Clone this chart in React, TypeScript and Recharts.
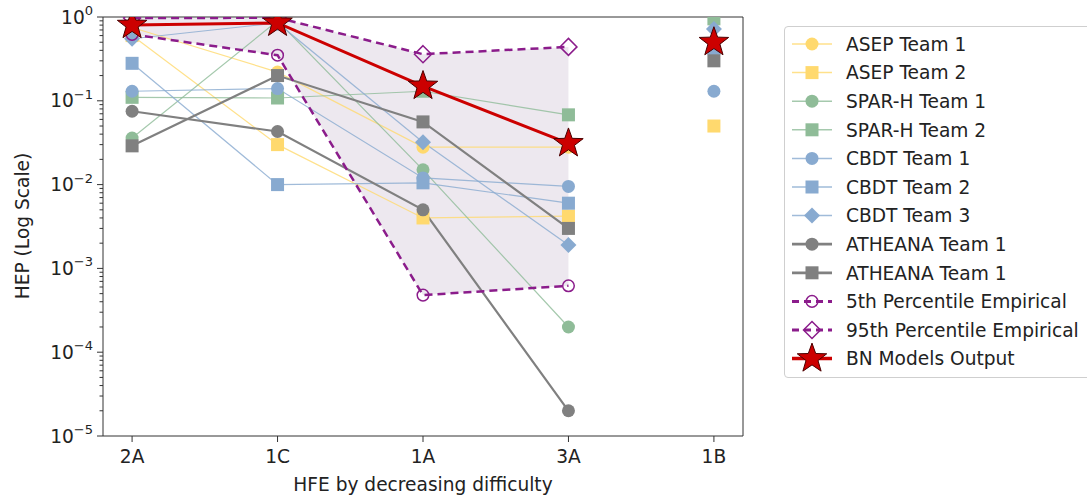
import React from 'react';
import { ComposedChart, Line, Area, XAxis, YAxis, ReferenceArea } from 'recharts';

// ---------- data ----------
const categories = ['2A', '1C', '1A', '3A', '1B'];
const isolatedCategory = '1B';

const asepTeam1 = [0.75, 0.22, 0.028, 0.028, null];
const asepTeam2 = [0.6, 0.03, 0.004, 0.0042, 0.05];
const sparhTeam1 = [0.036, 0.9, 0.015, 0.0002, null];
const sparhTeam2 = [0.11, 0.108, 0.13, 0.068, 0.95];
const cbdtTeam1 = [0.13, 0.14, 0.012, 0.0095, 0.13];
const cbdtTeam2 = [0.28, 0.01, 0.0105, 0.006, 0.42];
const cbdtTeam3 = [0.55, 0.85, 0.032, 0.0019, 0.72];
const atheanaTeam1 = [0.075, 0.043, 0.005, 0.00002, null];
const atheanaTeam2 = [0.029, 0.2, 0.056, 0.003, 0.3];
const percentile5 = [0.62, 0.35, 0.00048, 0.00062, null];
const percentile95 = [0.97, 0.98, 0.36, 0.44, null];
const bnOutput = [0.8, 0.85, 0.15, 0.031, 0.5];

const yMajorTicks = [1e-5, 1e-4, 1e-3, 1e-2, 1e-1, 1];
const yMinorMultipliers = [2, 3, 4, 5, 6, 7, 8, 9];

const seriesNames = [
  'ASEP Team 1', 'ASEP Team 2', 'SPAR-H Team 1', 'SPAR-H Team 2',
  'CBDT Team 1', 'CBDT Team 2', 'CBDT Team 3', 'ATHEANA Team 1',
  'ATHEANA Team 1', '5th Percentile Empirical', '95th Percentile Empirical', 'BN Models Output',
];

const xLabel = 'HFE by decreasing difficulty';
const yLabel = 'HEP (Log Scale)';

// ---------- styles ----------
const FONT = 'DejaVu Sans';
const FS = 18.6;
const ASEP = '#ffd96e';
const SPARH = '#8fbc98';
const CBDT = '#88aad0';
const ATH = '#808080';
const PCT = '#8b1c8b';
const BN = '#cc0000';

type MarkerKind = 'circle' | 'square' | 'diamond' | 'ocircle' | 'odiamond' | 'star';

const seriesDefs = [
  { key: 'asep1', values: asepTeam1, color: ASEP, width: 1.2, op: 0.8, marker: 'circle' as MarkerKind, dash: undefined },
  { key: 'asep2', values: asepTeam2, color: ASEP, width: 1.2, op: 0.8, marker: 'square' as MarkerKind, dash: undefined },
  { key: 'sparh1', values: sparhTeam1, color: SPARH, width: 1.2, op: 0.8, marker: 'circle' as MarkerKind, dash: undefined },
  { key: 'sparh2', values: sparhTeam2, color: SPARH, width: 1.2, op: 0.8, marker: 'square' as MarkerKind, dash: undefined },
  { key: 'cbdt1', values: cbdtTeam1, color: CBDT, width: 1.2, op: 0.8, marker: 'circle' as MarkerKind, dash: undefined },
  { key: 'cbdt2', values: cbdtTeam2, color: CBDT, width: 1.2, op: 0.8, marker: 'square' as MarkerKind, dash: undefined },
  { key: 'cbdt3', values: cbdtTeam3, color: CBDT, width: 1.2, op: 0.8, marker: 'diamond' as MarkerKind, dash: undefined },
  { key: 'ath1', values: atheanaTeam1, color: ATH, width: 2.2, op: 1, marker: 'circle' as MarkerKind, dash: undefined },
  { key: 'ath2', values: atheanaTeam2, color: ATH, width: 2.2, op: 1, marker: 'square' as MarkerKind, dash: undefined },
  { key: 'p5', values: percentile5, color: PCT, width: 2.5, op: 1, marker: 'ocircle' as MarkerKind, dash: '8 5' },
  { key: 'p95', values: percentile95, color: PCT, width: 2.5, op: 1, marker: 'odiamond' as MarkerKind, dash: '8 5' },
  { key: 'bn', values: bnOutput, color: BN, width: 3, op: 1, marker: 'star' as MarkerKind, dash: undefined },
];

// ---------- table ----------
const rows = categories.map((c, i) => {
  const iso = c === isolatedCategory;
  const row: any = { x: i, cat: c };
  seriesDefs.forEach((s) => {
    row[s.key] = iso ? null : s.values[i];
    row[s.key + '_iso'] = iso ? s.values[i] : null;
  });
  const lo = percentile5[i];
  const hi = percentile95[i];
  row.band = !iso && lo != null && hi != null ? [lo, hi] : null;
  return row;
});

const yTicks: number[] = [];
yMajorTicks.forEach((t, i) => {
  yTicks.push(t);
  if (i < yMajorTicks.length - 1) yMinorMultipliers.forEach((m) => yTicks.push(m * t));
});

// ---------- markers ----------
function starPoints(x: number, y: number, R: number, r: number) {
  const pts: string[] = [];
  for (let k = 0; k < 10; k++) {
    const ang = -Math.PI / 2 + (k * Math.PI) / 5;
    const rad = k % 2 === 0 ? R : r;
    pts.push(`${x + rad * Math.cos(ang)},${y + rad * Math.sin(ang)}`);
  }
  return pts.join(' ');
}

function Marker({ kind, x, y, color }: { kind: MarkerKind; x: number; y: number; color: string }) {
  switch (kind) {
    case 'circle':
      return <circle cx={x} cy={y} r={6.5} fill={color} stroke="none" />;
    case 'square':
      return <rect x={x - 6.5} y={y - 6.5} width={13} height={13} fill={color} stroke="none" />;
    case 'diamond':
      return <polygon points={`${x},${y - 8} ${x + 8},${y} ${x},${y + 8} ${x - 8},${y}`} fill={color} stroke="none" />;
    case 'ocircle':
      return <circle cx={x} cy={y} r={5.8} fill="none" stroke={color} strokeWidth={1.5} />;
    case 'odiamond':
      return <polygon points={`${x},${y - 8.5} ${x + 8.5},${y} ${x},${y + 8.5} ${x - 8.5},${y}`} fill="none" stroke={color} strokeWidth={1.5} />;
    case 'star':
      return <polygon points={starPoints(x, y, 15.5, 6.3)} fill={color} stroke="#4a0000" strokeWidth={1} />;
  }
  return null;
}

function makeDot(kind: MarkerKind, color: string) {
  return (p: any) => {
    const { cx, cy, index } = p;
    if (typeof cx !== 'number' || typeof cy !== 'number' || isNaN(cy)) return <g key={`e-${index}`} />;
    return (
      <g key={`d-${index}`}>
        <Marker kind={kind} x={cx} y={cy} color={color} />
      </g>
    );
  };
}

// ---------- ticks ----------
const YTick = (p: any) => {
  const { x, y, payload } = p;
  const v = payload.value as number;
  const lg = Math.log10(v);
  const e = Math.round(lg);
  const major = Math.abs(lg - e) < 1e-6;
  const len = major ? 6 : 3.5;
  const exp = e === 0 ? '0' : `\u2212${Math.abs(e)}`;
  return (
    <g>
      <line x1={x - len} x2={x} y1={y} y2={y} stroke="#333" strokeWidth={1} />
      {major && (
        <text x={x - len - 4} y={y + 6.5} textAnchor="end" fontFamily={FONT} fontSize={FS} fill="#222">
          10
          <tspan dy={-8.5} fontSize={FS * 0.7}>{exp}</tspan>
        </text>
      )}
    </g>
  );
};

const XTick = (p: any) => {
  const { x, y, payload } = p;
  return (
    <g>
      <line x1={x} x2={x} y1={y} y2={y + 6} stroke="#333" strokeWidth={1} />
      <text x={x} y={y + 27} textAnchor="middle" fontFamily={FONT} fontSize={FS} fill="#222">
        {categories[payload.value]}
      </text>
    </g>
  );
};

// ---------- legend ----------
const LegendBox = () => {
  const top = 26;
  const left = 784;
  const rowH = 28.6;
  return (
    <div
      style={{
        position: 'absolute', left, top, width: 340, height: 352,
        border: '1px solid #cfcfcf', borderRadius: 4, background: 'rgba(255,255,255,0.85)', boxSizing: 'border-box',
      }}
    >
      <svg width={340} height={352} style={{ position: 'absolute', left: -1, top: -1 }}>
        {seriesDefs.map((s, i) => {
          const cy = 18 + i * rowH;
          return (
            <g key={s.key}>
              <line x1={8} x2={48} y1={cy} y2={cy} stroke={s.color} strokeWidth={s.width === 1.2 ? 1.5 : s.width + 0.5}
                strokeOpacity={s.op} strokeDasharray={s.dash ? '7 5' : undefined} />
              <Marker kind={s.marker} x={28} y={cy} color={s.color} />
              <text x={62} y={cy + 6.8} fontFamily={FONT} fontSize={FS} fill="#222">{seriesNames[i]}</text>
            </g>
          );
        })}
      </svg>
    </div>
  );
};

export default function App() {
  return (
    <div style={{ position: 'absolute', left: 0, top: 0, width: 1087, height: 495, overflow: 'hidden', background: '#fff' }}>
      <ComposedChart width={1087} height={495} data={rows} margin={{ top: 17, right: 344, bottom: 0, left: 0 }}>
        <XAxis
          type="number" dataKey="x" domain={[-0.2, 4.2]} ticks={categories.map((_, i) => i)} allowDataOverflow
          height={59} tickSize={0} tickMargin={0} axisLine={false} tickLine={false} interval={0}
          tick={(p: any) => <XTick {...p} />}
          label={{
            content: () => (
              <text x={423} y={491} textAnchor="middle" fontFamily={FONT} fontSize={FS} fill="#222">{xLabel}</text>
            ),
          }}
        />
        <YAxis
          type="number" scale="log" domain={[1e-5, 1]} ticks={yTicks} allowDataOverflow width={103}
          tickSize={0} tickMargin={0} axisLine={false} tickLine={false} interval={0}
          tick={(p: any) => <YTick {...p} />}
          label={{
            content: () => (
              <text x={29} y={226} transform="rotate(-90 29 226)" textAnchor="middle" fontFamily={FONT} fontSize={FS} fill="#222">
                {yLabel}
              </text>
            ),
          }}
        />
        <Area dataKey="band" type="linear" stroke="none" fill="#ede8ef" fillOpacity={1} isAnimationActive={false}
          dot={false} activeDot={false} connectNulls={false} />
        {seriesDefs.map((s) => (
          <Line key={s.key} dataKey={s.key} type="linear" stroke={s.color} strokeWidth={s.width} strokeOpacity={s.op}
            strokeDasharray={s.dash} dot={makeDot(s.marker, s.color)} activeDot={false} isAnimationActive={false}
            connectNulls={false} />
        ))}
        {seriesDefs.map((s) => (
          <Line key={s.key + '_iso'} dataKey={s.key + '_iso'} type="linear" stroke="none"
            dot={makeDot(s.marker, s.color)} activeDot={false} isAnimationActive={false} legendType="none" />
        ))}
        <ReferenceArea x1={-0.2} x2={4.2} y1={1e-5} y2={1} fill="none" stroke="#333" strokeWidth={1} ifOverflow="visible" />
      </ComposedChart>
      <LegendBox />
    </div>
  );
}
